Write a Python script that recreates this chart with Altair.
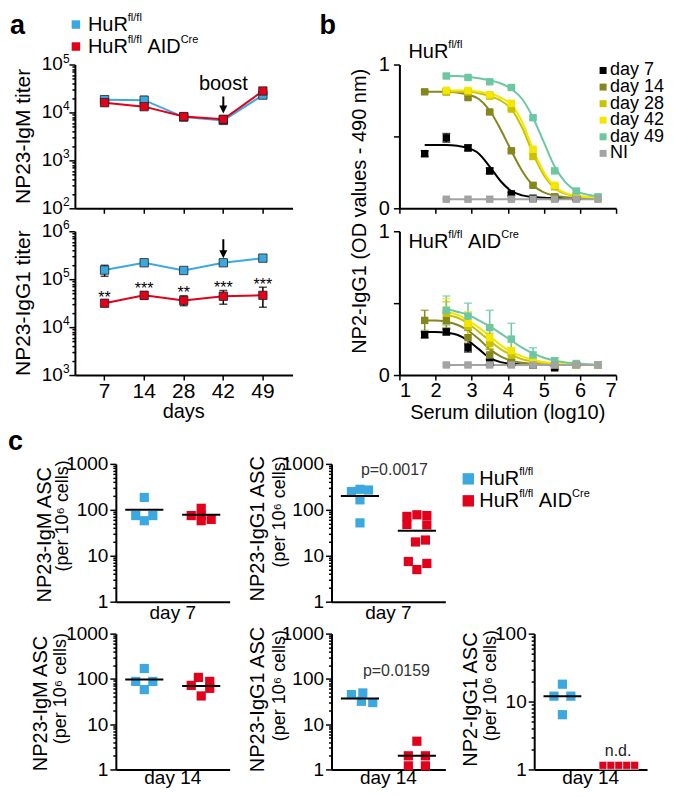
import altair as alt
import pandas as pd

FONT = "Liberation Sans"
BLUE = "#3ba9e0"
RED = "#e2001a"

# ---------------- panel a : titers ----------------
days = ["7", "14", "28", "42", "49"]
igm_ctrl = [18500, 18000, 8000, 6800, 23000]
igm_ctrl_lo = [16500, 15000, 7000, 5800, 20500]
igm_ctrl_hi = [20500, 21500, 9200, 8000, 26000]
igm_ko = [16000, 13200, 8200, 7200, 28000]
igm_ko_lo = [14000, 12000, 7000, 6000, 25000]
igm_ko_hi = [18000, 14500, 9500, 8500, 31500]
igg_ctrl = [155000, 220000, 152000, 220000, 275000]
igg_ctrl_lo = [115000, 205000, 142000, 205000, 255000]
igg_ctrl_hi = [195000, 235000, 163000, 235000, 295000]
igg_ko = [31500, 46000, 36000, 44000, 46000]
igg_ko_lo = [27000, 38000, 28000, 30000, 26000]
igg_ko_hi = [36500, 55000, 45000, 58000, 68000]
signif = ["**", "***", "**", "***", "***"]

# ---------------- panel b : ELISA dilution curves ----------------
N = None
dilution = [1.7, 2.3, 2.9, 3.5, 4.1, 4.7, 5.3, 5.9, 6.5]
fit_x = [1.7, 2.0, 2.3, 2.6, 2.9, 3.2, 3.5, 3.8, 4.1, 4.4, 4.7, 5.0, 5.3, 5.6, 5.9, 6.2, 6.5]
b_series = ["day 7", "day 14", "day 28", "day 42", "day 49", "NI"]
b_colors = ["#000000", "#86861e", "#c9c200", "#f5e600", "#6cc7a2", "#a3a3a3"]

b_top_pts = [
    [0.38, 0.49, 0.42, 0.26, 0.10, 0.07, 0.07, 0.07, 0.07],
    [0.81, 0.81, 0.77, 0.67, 0.40, 0.16, 0.08, 0.07, 0.07],
    [N, 0.81, 0.81, 0.78, 0.69, 0.36, 0.15, 0.09, 0.07],
    [N, 0.82, 0.82, 0.79, 0.73, 0.41, 0.16, 0.09, 0.07],
    [N, 0.92, 0.91, 0.88, 0.84, 0.63, 0.26, 0.12, 0.08],
    [N, 0.063, 0.063, 0.063, 0.063, 0.063, 0.063, 0.063, 0.063],
]
b_top_err = [
    [0.02, 0.03, 0.02, 0.02, 0.01, 0.01, 0.01, 0.01, 0.01],
    [0.01, 0.01, 0.01, 0.01, 0.01, 0.01, 0.01, 0.01, 0.01],
    [N, 0.01, 0.01, 0.01, 0.01, 0.01, 0.01, 0.01, 0.01],
    [N, 0.01, 0.01, 0.01, 0.01, 0.01, 0.01, 0.01, 0.01],
    [N, 0.01, 0.01, 0.01, 0.01, 0.01, 0.01, 0.01, 0.01],
    [N, 0.005, 0.005, 0.005, 0.005, 0.005, 0.005, 0.005, 0.005],
]
b_top_fit = [
    [0.44, 0.44, 0.44, 0.435, 0.42, 0.38, 0.29, 0.19, 0.12, 0.09, 0.078, 0.073, 0.071, 0.07, 0.07, 0.07, 0.07],
    [0.81, 0.81, 0.81, 0.805, 0.79, 0.76, 0.68, 0.55, 0.40, 0.26, 0.16, 0.11, 0.088, 0.077, 0.073, 0.071, 0.07],
    [N, N, 0.81, 0.81, 0.81, 0.80, 0.78, 0.75, 0.69, 0.56, 0.38, 0.23, 0.14, 0.10, 0.085, 0.077, 0.073],
    [N, N, 0.82, 0.82, 0.82, 0.81, 0.80, 0.77, 0.72, 0.60, 0.41, 0.25, 0.15, 0.105, 0.087, 0.078, 0.074],
    [N, N, 0.92, 0.92, 0.915, 0.905, 0.89, 0.87, 0.83, 0.76, 0.63, 0.46, 0.29, 0.18, 0.12, 0.095, 0.083],
    [N, N, 0.063, N, 0.063, N, 0.063, N, 0.063, N, 0.063, N, 0.063, N, 0.063, N, 0.063],
]
b_bot_pts = [
    [0.28, 0.30, 0.19, 0.09, 0.08, 0.07, 0.05, 0.07, 0.07],
    [0.38, 0.38, 0.26, 0.14, 0.09, 0.07, 0.07, 0.07, 0.07],
    [N, 0.43, 0.34, 0.22, 0.14, 0.09, 0.08, 0.07, 0.07],
    [N, 0.45, 0.36, 0.26, 0.17, 0.10, 0.08, 0.07, 0.07],
    [N, 0.45, 0.41, 0.33, 0.25, 0.14, 0.10, 0.08, 0.07],
    [N, 0.07, 0.07, 0.07, 0.07, 0.07, 0.07, 0.07, 0.07],
]
b_bot_err = [
    [0.02, 0.02, 0.03, 0.02, 0.01, 0.01, 0.01, 0.01, 0.01],
    [0.07, 0.05, 0.05, 0.04, 0.02, 0.01, 0.01, 0.01, 0.01],
    [N, 0.08, 0.08, 0.07, 0.05, 0.03, 0.02, 0.01, 0.01],
    [N, 0.08, 0.08, 0.08, 0.06, 0.03, 0.02, 0.01, 0.01],
    [N, 0.10, 0.09, 0.12, 0.11, 0.05, 0.02, 0.01, 0.01],
    [N, 0.01, 0.01, 0.01, 0.01, 0.01, 0.01, 0.01, 0.01],
]
b_bot_fit = [
    [0.30, 0.30, 0.295, 0.28, 0.24, 0.18, 0.12, 0.09, 0.078, 0.073, 0.071, 0.07, 0.07, 0.07, 0.07, 0.07, 0.07],
    [0.38, 0.38, 0.37, 0.35, 0.31, 0.25, 0.18, 0.13, 0.10, 0.085, 0.077, 0.073, 0.071, 0.07, 0.07, 0.07, 0.07],
    [N, N, 0.42, 0.40, 0.36, 0.30, 0.24, 0.18, 0.14, 0.11, 0.095, 0.085, 0.078, 0.074, 0.072, 0.07, 0.07],
    [N, N, 0.44, 0.42, 0.38, 0.33, 0.27, 0.21, 0.16, 0.13, 0.105, 0.09, 0.082, 0.077, 0.074, 0.072, 0.071],
    [N, N, 0.46, 0.44, 0.42, 0.38, 0.34, 0.29, 0.24, 0.19, 0.15, 0.12, 0.10, 0.088, 0.08, 0.075, 0.072],
    [N, N, 0.07, N, 0.07, N, 0.07, N, 0.07, N, 0.07, N, 0.07, N, 0.07, N, 0.07],
]

# ---------------- panel c : ASC counts (per 10^6 cells) ----------------
c11_blue = [186, 75, 58, 75]
c11_blue_dx = [0.0, -0.3, 0.0, 0.3]
c11_red = [108, 75, 75, 62, 58]
c11_red_dx = [0.0, -0.35, 0.0, 0.35, 0.0]
c11_med = [100, 78]

c12_blue = [250, 280, 270, 165, 52]
c12_blue_dx = [-0.3, 0.0, 0.3, 0.0, 0.0]
c12_red = [72, 78, 75, 48, 47, 22, 20, 7.5, 6.8, 5.0]
c12_red_dx = [-0.35, 0.0, 0.35, -0.35, 0.35, 0.3, -0.05, -0.3, 0.35, 0.0]
c12_med = [200, 35]

c21_blue = [170, 88, 88, 58]
c21_blue_dx = [0.0, -0.3, 0.3, 0.0]
c21_red = [108, 88, 72, 62, 42]
c21_red_dx = [-0.1, 0.3, -0.35, 0.3, 0.0]
c21_med = [97, 70]

c22_blue = [45, 49, 32, 30]
c22_blue_dx = [-0.3, 0.1, 0.05, 0.45]
c22_red = [4.2, 2.0, 2.0, 1.2, 1.2]
c22_red_dx = [0.0, -0.3, 0.3, -0.3, 0.3]
c22_med = [37, 2.0]

c23_blue = [18, 12, 12, 6.4]
c23_blue_dx = [0.0, -0.3, 0.3, 0.0]
c23_red = [1.15, 1.15, 1.15, 1.15, 1.15]
c23_red_dx = [-0.56, -0.28, 0.0, 0.28, 0.56]
c23_med = [12, None]

# ---------------- helpers ----------------
ONE = pd.DataFrame({"k": [0]})
DEC = "abs(log(datum.value)/LN10 - round(log(datum.value)/LN10)) < 0.001"
TICK_LOG = {"condition": {"test": DEC, "value": 6}, "value": 3}
AW = {"H": .722, "u": .556, "R": .722, "f": .278, "l": .222, "/": .278, " ": .278,
      "A": .667, "I": .278, "D": .722, "C": .722, "r": .333, "e": .556}


def log_ticks(e0, e1):
    out = []
    for e in range(e0, e1):
        for k in range(1, 10):
            out.append(k * 10 ** e)
    out.append(10 ** e1)
    return out


def ptext(s, x, y, size=20, angle=0, align="center", baseline="middle",
          weight="normal", color="black"):
    return alt.Chart(ONE).mark_text(
        text=s, fontSize=size, angle=angle, align=align, baseline=baseline,
        fontWeight=weight, color=color, font=FONT
    ).encode(x=alt.value(x), y=alt.value(y))


def psquare(x, y, size, color):
    return alt.Chart(ONE).mark_square(size=size, color=color, opacity=1).encode(
        x=alt.value(x), y=alt.value(y))


def ghost(x, y):
    return alt.Chart(ONE).mark_square(size=1, opacity=0).encode(x=alt.value(x), y=alt.value(y))


def anchors(L, T, R=0, B=0):
    # invisible points that fix the extent of a cell for the concat layout
    return [ghost(L, T), ghost(R, B)]


def twidth(s, size):
    return sum(AW.get(c, 0.556) for c in s) * size


def rich(parts, x, y, size=20, sup=11, rise=7):
    out, cx = [], x
    for s, is_sup in parts:
        fs = sup if is_sup else size
        lead = len(s) - len(s.lstrip(" "))
        cx += twidth(" " * lead, fs)
        s = s.lstrip(" ")
        out.append(ptext(s, cx, y - (rise if is_sup else 0), fs, align="left"))
        cx += twidth(s, fs)
    return out


HUR = [("HuR", 0), ("fl/fl", 1)]
HUR_AID = [("HuR", 0), ("fl/fl", 1), (" AID", 0), ("Cre", 1)]


# ---------------- panel a ----------------
def a_panel(ctrl, clo, chi, ko, klo, khi, e0, e1, bottom):
    xs = alt.Scale(domain=days, padding=0.5)
    ys = alt.Scale(type="log", domain=[10 ** e0, 10 ** e1])
    xax = alt.Axis(title=None, labels=bottom, tickSize=5, labelFontSize=21,
                   labelPadding=0, labelAngle=0)
    yax = alt.Axis(title=None, labels=False, values=log_ticks(e0, e1), tickSize=TICK_LOG)
    X = alt.X("day:O", scale=xs, axis=xax)

    def Y(f):
        return alt.Y(f, scale=ys, axis=yax)

    dc = pd.DataFrame({"day": days, "v": ctrl, "lo": clo, "hi": chi})
    dk = pd.DataFrame({"day": days, "v": ko, "lo": klo, "hi": khi})
    layers = []
    for d, col in ((dc, BLUE), (dk, RED)):
        layers.append(alt.Chart(d).mark_line(color=col, strokeWidth=2).encode(x=X, y=Y("v:Q")))
    for d, col in ((dc, BLUE), (dk, RED)):
        layers.append(alt.Chart(d).mark_rule(color="black", strokeWidth=1.5).encode(
            x=X, y=Y("lo:Q"), y2="hi:Q"))
        for f in ("lo:Q", "hi:Q"):
            layers.append(alt.Chart(d).mark_tick(orient="horizontal", color="black", size=8,
                                                 thickness=1.5).encode(x=X, y=Y(f)))
        layers.append(alt.Chart(d).mark_square(size=70, color=col, opacity=1, stroke="#222222",
                                               strokeWidth=0.8).encode(x=X, y=Y("v:Q")))
    exps = list(range(e0, e1 + 1))
    dl = pd.DataFrame({"v": [10 ** e for e in exps], "b": ["10" for e in exps],
                       "e": [str(e) for e in exps]})
    layers.append(alt.Chart(dl).mark_text(align="right", baseline="middle", fontSize=19,
                                          font=FONT).encode(x=alt.value(-12), y=Y("v:Q"), text="b:N"))
    layers.append(alt.Chart(dl).mark_text(align="left", baseline="middle", fontSize=12, dy=-6,
                                          font=FONT).encode(x=alt.value(-12), y=Y("v:Q"), text="e:N"))
    return layers, X, Y


def arrow(X, y0, tip):
    d = pd.DataFrame({"day": ["42"]})
    return [
        alt.Chart(d).mark_rule(color="black", strokeWidth=2).encode(
            x=X, y=alt.value(y0), y2=alt.value(tip - 4)),
        alt.Chart(d).mark_point(shape="M-1,-1L1,-1L0,1Z", size=64, filled=True, color="black",
                                opacity=1).encode(x=X, y=alt.value(tip - 4)),
    ]


A_W, A_H = 218, 144
la, Xa, Ya = a_panel(igm_ctrl, igm_ctrl_lo, igm_ctrl_hi, igm_ko, igm_ko_lo, igm_ko_hi, 2, 5, False)
la += arrow(Xa, 32, 49)
la.append(alt.Chart(pd.DataFrame({"day": ["42"]})).mark_text(
    text="boost", fontSize=20, font=FONT, baseline="middle").encode(x=Xa, y=alt.value(20)))
la.append(ptext("NP23-IgM titer", -51, 72, 21, angle=270))
la.append(ptext("a", -65, -31, 27, align="left", baseline="alphabetic", weight="bold"))
la.append(ptext("b", 245, -31, 27, align="left", baseline="alphabetic", weight="bold"))
la.append(psquare(1, -40, 72, BLUE))
la.append(psquare(1, -18, 72, RED))
la += rich(HUR, 13, -40)
la += rich(HUR_AID, 13, -18)
la += anchors(-65, -55, 274, 149.5)
a_top = alt.layer(*la).properties(width=A_W, height=A_H)

lb, Xb, Yb = a_panel(igg_ctrl, igg_ctrl_lo, igg_ctrl_hi, igg_ko, igg_ko_lo, igg_ko_hi, 3, 6, True)
lb += arrow(Xb, 8, 27)
dstar = pd.DataFrame({"day": days, "hi": igg_ko_hi, "s": signif})
lb.append(alt.Chart(dstar).mark_text(fontSize=16, dy=2.5, baseline="alphabetic", font=FONT).encode(
    x=Xb, y=Yb("hi:Q"), text="s:N"))
lb.append(ptext("NP23-IgG1 titer", -51, 72, 21, angle=270))
lb.append(ptext("days", A_W / 2, 181, 20))
lb += anchors(-65, -12.5, 274, 194.5)
a_bot = alt.layer(*lb).properties(width=A_W, height=A_H)


# ---------------- panel b ----------------
def b_panel(pts, errs, fits, bottom):
    xs = alt.Scale(domain=[1, 7])
    ys = alt.Scale(domain=[0, 1])
    xax = alt.Axis(title=None, values=[1, 2, 3, 4, 5, 6, 7], format="d", labels=bottom,
                   tickSize=5, labelFontSize=20, labelPadding=0)
    yax = alt.Axis(title=None, values=[0, 0.5, 1],
                   labelExpr="datum.value == 0.5 ? '' : format(datum.value, 'd')",
                   tickSize=6, labelFontSize=20, labelPadding=4)
    col = alt.Color("s:N", scale=alt.Scale(domain=b_series, range=b_colors), legend=None)
    prow, frow = [], []
    for s, vals, ers in zip(b_series, pts, errs):
        for x, v, e in zip(dilution, vals, ers):
            if v is not None:
                prow.append({"s": s, "x": x, "v": v, "lo": v - e, "hi": v + e})
    for s, vals in zip(b_series, fits):
        for x, v in zip(fit_x, vals):
            if v is not None:
                frow.append({"s": s, "x": x, "v": v})
    dp, df = pd.DataFrame(prow), pd.DataFrame(frow)
    X = alt.X("x:Q", scale=xs, axis=xax)

    def Y(f):
        return alt.Y(f, scale=ys, axis=yax)

    return [
        alt.Chart(df).mark_line(strokeWidth=2, interpolate="monotone").encode(x=X, y=Y("v:Q"), color=col),
        alt.Chart(dp).mark_rule(strokeWidth=1.5).encode(x=X, y=Y("lo:Q"), y2="hi:Q", color=col),
        alt.Chart(dp).mark_tick(orient="horizontal", size=8, thickness=1.5).encode(x=X, y=Y("lo:Q"), color=col),
        alt.Chart(dp).mark_tick(orient="horizontal", size=8, thickness=1.5).encode(x=X, y=Y("hi:Q"), color=col),
        alt.Chart(dp).mark_square(size=55, opacity=1).encode(x=X, y=Y("v:Q"), color=col),
    ]


B_W, B_H = 217, 144
lbt = b_panel(b_top_pts, b_top_err, b_top_fit, False)
lbt += rich(HUR, 9, -13)
for i, (s, c) in enumerate(zip(b_series, b_colors)):
    lbt.append(psquare(204, 6 + 16.6 * i, 49, c))
    lbt.append(ptext(s, 211, 6 + 16.6 * i, 18, align="left"))
lbt += anchors(-27.5, -55, 0, 149.5)
b_top = alt.layer(*lbt).properties(width=B_W, height=B_H)

lbb = b_panel(b_bot_pts, b_bot_err, b_bot_fit, True)
lbb += rich(HUR_AID, 9, 11)
lbb.append(ptext("Serum dilution (log10)", B_W / 2, 182, 20))
lbb += anchors(-27.5, -12.5, 0, 194.5)
b_bot = alt.layer(*lbb).properties(width=B_W, height=B_H)

# shared y title of panel b, in its own narrow cell between the a and b columns
b_title = alt.layer(
    ghost(0.5, 0.5),
    ptext("NP2-IgG1 (OD values - 490 nm)", 10, 147, 20, angle=270),
).properties(width=1, height=1)


# ---------------- panel c ----------------
def c_panel(bv, bdx, rv, rdx, med, ymax_exp, w, t1, t2, t1x, t1y, t2x, t2y,
            xlab, xlab_y, red_row=False):
    xs = alt.Scale(domain=[0, 4])
    ys = alt.Scale(type="log", domain=[1, 10 ** ymax_exp])
    xax = alt.Axis(title=None, labels=False, ticks=False)
    yax = alt.Axis(title=None, values=log_ticks(0, ymax_exp),
                   labelExpr=DEC + " ? format(datum.value, 'd') : ''",
                   tickSize=TICK_LOG, labelFontSize=19, labelPadding=2)

    def X(f):
        return alt.X(f, scale=xs, axis=xax)

    def Y(f):
        return alt.Y(f, scale=ys, axis=yax)

    db = pd.DataFrame({"x": [1 + d for d in bdx], "v": bv})
    dr = pd.DataFrame({"x": [3 + d for d in rdx], "v": rv})
    if red_row:
        red_mark = alt.Chart(dr).mark_square(size=64, color=RED, opacity=1, stroke="white",
                                             strokeWidth=0.7)
    else:
        red_mark = alt.Chart(dr).mark_square(size=85, color=RED, opacity=1)
    layers = [
        alt.Chart(db).mark_square(size=85, color=BLUE, opacity=1).encode(x=X("x:Q"), y=Y("v:Q")),
        red_mark.encode(x=X("x:Q"), y=Y("v:Q")),
    ]
    mrows = [{"a": c - 0.67, "b": c + 0.67, "v": m} for c, m in zip((1, 3), med) if m is not None]
    layers.append(alt.Chart(pd.DataFrame(mrows)).mark_rule(color="black", strokeWidth=2).encode(
        x=X("a:Q"), x2="b:Q", y=Y("v:Q")))
    layers.append(ptext(t1, t1x, t1y, 20, angle=270))
    layers.append(ptext(t2, t2x, t2y, 18, angle=270))
    layers.append(ptext(xlab, w / 2, xlab_y, 19))
    return layers


C_W = 114
H1, H2 = 138, 136
TT = "(per 10⁶ cells)"
l11 = c_panel(c11_blue, c11_blue_dx, c11_red, c11_red_dx, c11_med, 3, C_W,
              "NP23-IgM ASC", TT, -71, 71, -53, 52, "day 7", 149.5)
l11 += anchors(-82, -37.5, 129.5, 159.5)
c11 = alt.layer(*l11).properties(width=C_W, height=H1)

l12 = c_panel(c12_blue, c12_blue_dx, c12_red, c12_red_dx, c12_med, 3, C_W,
              "NP23-IgG1 ASC", TT, -74, 65, -52, 48, "day 7", 149.5)
l12.append(ptext("p=0.0017", 63, 6, 16, color="#333333"))
l12.append(psquare(137, 15, 130, BLUE))
l12.append(psquare(137, 37, 130, RED))
l12 += rich(HUR, 148, 15)
l12 += rich(HUR_AID, 148, 37)
l12 += anchors(-85, -37.5, 0, 159.5)
c12 = alt.layer(*l12).properties(width=C_W, height=H1)

l21 = c_panel(c21_blue, c21_blue_dx, c21_red, c21_red_dx, c21_med, 3, C_W,
              "NP23-IgM ASC", TT, -75, 70, -55, 55, "day 14", 145)
l21 += anchors(-86, -9.5, 129.5, 0)
c21 = alt.layer(*l21).properties(width=C_W, height=H2)

l22 = c_panel(c22_blue, c22_blue_dx, c22_red, c22_red_dx, c22_med, 3, C_W,
              "NP23-IgG1 ASC", TT, -74, 66, -52, 52, "day 14", 145)
l22.append(ptext("p=0.0159", 65, 37, 16, color="#333333"))
l22 += anchors(-85, -9.5, 127.5, 0)
c22 = alt.layer(*l22).properties(width=C_W, height=H2)

l23 = c_panel(c23_blue, c23_blue_dx, c23_red, c23_red_dx, c23_med, 2, 113,
              "NP2-IgG1 ASC", TT, -63, 66, -43, 52, "day 14", 145, red_row=True)
l23.append(ptext("n.d.", 84, 118, 16, color="#222222"))
l23 += anchors(-74, -9.5, 0, 0)
c23 = alt.layer(*l23).properties(width=113, height=H2)

# ---------------- layout ----------------
spA = ghost(0.5, 0.5).properties(width=1, height=1)
spC1 = alt.layer(
    ghost(0.5, 0.5),
    ptext("c", 0, -14, 27, align="left", baseline="alphabetic", weight="bold"),
).properties(width=25, height=1)
spC2 = ghost(0.5, 0.5).properties(width=21, height=1)

colA = alt.vconcat(a_top, a_bot, spacing=0)
colB = alt.vconcat(b_top, b_bot, spacing=0)
rowAB = alt.hconcat(spA, colA, b_title, colB, spacing=0)
rowC1 = alt.hconcat(spC1, c11, c12, spacing=0)
rowC2 = alt.hconcat(spC2, c21, c22, c23, spacing=0)

chart = alt.vconcat(rowAB, rowC1, rowC2, spacing=0).properties(padding=0).configure_view(
    stroke=None
).configure_axis(
    domainColor="black", domainWidth=2, tickColor="black", tickWidth=1.5,
    labelColor="black", labelFont=FONT, grid=False,
)

chart.save("out.html", embed_options={"renderer": "svg", "actions": False})
